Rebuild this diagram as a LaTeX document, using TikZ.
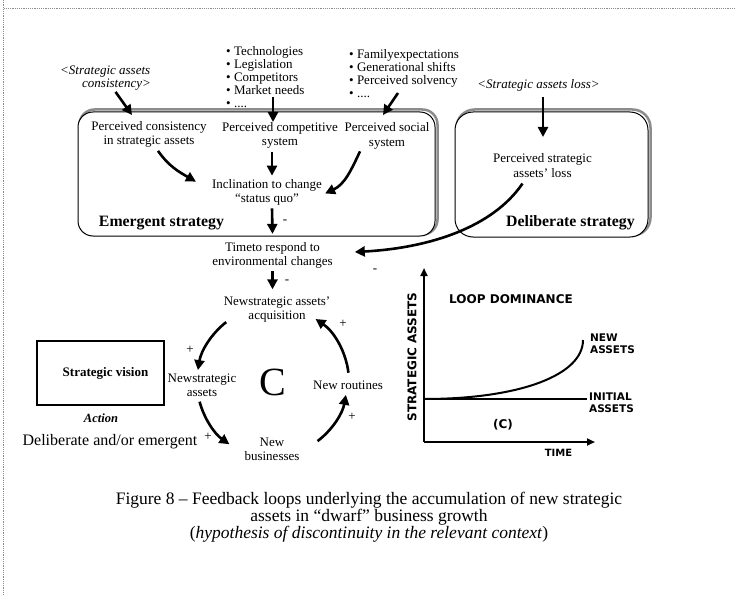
\documentclass[tikz,border=0pt]{standalone}
\usepackage{fontspec}
\setmainfont{Liberation Serif}
\newfontfamily\vsans{DejaVu Sans}
\usetikzlibrary{arrows.meta,backgrounds}

\tikzset{
  x=1pt, y=1pt,
  body/.style={align=center, inner sep=0pt, font=\fontsize{13}{14.5}\selectfont},
  srctext/.style={align=center, inner sep=0pt, font=\fontsize{13}{13}\selectfont\itshape},
  blist/.style={align=left, inner sep=0pt, anchor=west, font=\fontsize{13}{13}\selectfont},
  boxtitle/.style={inner sep=0pt, font=\fontsize{15.8}{17}\selectfont\bfseries},
  sign/.style={inner sep=0pt, font=\fontsize{13}{13}\selectfont},
  arr/.style={line width=2.6pt, -{Triangle[length=10pt,width=10pt]}},
  garr/.style={line width=2pt, -{Triangle[length=8pt,width=7pt]}},
  gline/.style={line width=2pt},
  gtext/.style={inner sep=0pt, font=\fontsize{12}{12}\selectfont\vsans\bfseries},
  gsmall/.style={align=left, anchor=west, inner sep=0pt, font=\fontsize{10.5}{12.5}\selectfont\vsans\bfseries},
  stratbox/.style={draw=black, line width=1pt, fill=white, rounded corners=#1},
  boxshadow/.style={draw=black!45, line width=2.5pt, rounded corners=#1},
  frame/.style={draw=black!45, line width=1.3pt, dash pattern=on 1.3pt off 0.9pt},
}

\begin{document}
\begin{tikzpicture}
\path[use as bounding box] (0,0) rectangle (736,-596);

% page frame
\draw[frame] (3.5,0) -- (3.5,-596);
\draw[frame] (3.5,-8.5) -- (736,-8.5);

% strategy boxes
\node[stratbox=15pt, minimum width=357pt, minimum height=124pt] (emer) at (256.5,-174) {};
\node[stratbox=18pt, minimum width=193pt, minimum height=125pt] (delib) at (551.5,-174.5) {};
\begin{scope}[on background layer]
  \draw[boxshadow=15pt] ([shift={(2,2)}]emer.south west) rectangle ([shift={(2,2)}]emer.north east);
  \draw[boxshadow=18pt] ([shift={(2,2)}]delib.south west) rectangle ([shift={(2,2)}]delib.north east);
\end{scope}

% external inputs
\node[srctext, align=left, anchor=west] (csrc) at (60,-78.5) {<Strategic assets\\\hspace*{22pt}consistency>};
\node[blist] (bul1) at (226,-77) {• Technologies\\• Legislation\\• Competitors\\• Market needs\\• ....};
\node[blist] (bul2) at (349,-73.5) {• Familyexpectations\\• Generational shifts\\• Perceived solvency\\• ....};
\node[srctext] (lsrc) at (538.5,-85) {<Strategic assets loss>};

% emergent strategy content
\node[body] (pcons) at (149,-134.5) {Perceived consistency\\in strategic assets};
\node[body] (pcomp) at (280,-135.5) {Perceived competitive\\system};
\node[body] (psoc) at (387,-136) {Perceived social\\system};
\node[body, font=\fontsize{13}{13.5}\selectfont] (incl) at (267,-192.5) {Inclination to change\\“status quo”};
\node[boxtitle] (etitle) at (161.5,-223) {Emergent strategy};
\node[sign] (s1) at (285,-222) {-};

% deliberate strategy content
\node[body] (ploss) at (542.5,-165.5) {Perceived strategic\\assets’ loss};
\node[boxtitle] (dtitle) at (570.5,-223) {Deliberate strategy};

% loop variables
\node[body, font=\fontsize{13}{14}\selectfont] (time) at (272.5,-255) {Timeto respond to\\environmental changes};
\node[sign] (s2) at (375,-271) {-};
\node[sign] (s3) at (287,-282) {-};
\node[body] (acq) at (277,-309.5) {Newstrategic assets’\\acquisition};
\node[body] (nsa) at (202,-385.5) {Newstrategic\\assets};
\node[inner sep=0pt, font=\fontsize{40}{40}\selectfont] (C) at (273,-382) {C};
\node[body] (nr) at (348,-385) {New routines};
\node[body] (nb) at (272,-449.5) {New\\businesses};
\node[sign] (p1) at (190,-350) {+};
\node[sign] (p2) at (208,-437) {+};
\node[sign] (p3) at (352,-417) {+};
\node[sign] (p4) at (343,-324) {+};

% strategic vision
\node[draw, line width=1.8pt, minimum width=127pt, minimum height=64pt, inner sep=0pt,
      font=\fontsize{13}{14}\selectfont\bfseries] (vision) at (100.5,-373) {\hspace*{10pt}Strategic vision};
\node[inner sep=0pt, font=\fontsize{12.5}{13}\selectfont\bfseries\itshape] (action) at (101,-418) {Action};
\node[inner sep=0pt, font=\fontsize{16}{17}\selectfont] (delem) at (110,-442) {Deliberate and/or emergent};

% arrow end points
\coordinate (tcons) at (132,-115);
\coordinate (scomp) at (273,-97);
\coordinate (tcomp) at (273,-122);
\coordinate (ssoc) at (398,-93);
\coordinate (tsoc) at (383,-115);
\coordinate (sloss) at (543,-97);
\coordinate (tloss) at (543,-137);

% arrows into the boxes
\draw[arr] ([xshift=10pt,yshift=-1pt]csrc.south) -- (tcons);
\draw[arr] (scomp) -- (tcomp);
\draw[arr] (ssoc) -- (tsoc);
\draw[arr] (sloss) -- (tloss);

% arrows inside the emergent box
\draw[arr] ([xshift=9pt,yshift=-3pt]pcons.south) to[out=-55,in=150] ([xshift=-16pt,yshift=-2pt]incl.west |- incl.north);
\draw[arr] ([xshift=5pt,yshift=-3pt]pcomp.south -| incl) -- ([xshift=5pt,yshift=4pt]incl.north);
\draw[arr] ([xshift=-27pt,yshift=-2pt]psoc.south) to[out=-115,in=25] ([xshift=3pt,yshift=-1pt]incl.east);
\draw[arr] ([xshift=5pt,yshift=-3pt]incl.south) -- ([yshift=8pt]time.north);

% loss of assets feeds the response time
\draw[arr] ([xshift=-20pt,yshift=-6pt]ploss.south) .. controls (493,-227) and (430,-248) .. ([xshift=22pt,yshift=3pt]time.east);

% response time drives acquisition
\draw[arr] ([yshift=-3pt]time.south) -- ([yshift=7pt]time.south |- acq.north);

% reinforcing loop C
\draw[arr] ([shift={(128:76)}]C.center) arc[start angle=128, end angle=171, radius=76];
\draw[arr] ([shift={(195:76)}]C.center) arc[start angle=195, end angle=235, radius=76];
\draw[arr] ([shift={(307:74)}]C.center) arc[start angle=307, end angle=350, radius=74];
\draw[arr] ([shift={(7:76)}]C.center) arc[start angle=7, end angle=56, radius=76];

% loop dominance chart
\coordinate (O) at (424,-442);
\coordinate (ytip) at (424,-268);
\coordinate (xtip) at (595,-442);
\coordinate (i0) at (424,-399);
\coordinate (i1) at (587,-399);
\coordinate (n1) at (583,-340);
\draw[garr] (O) -- (ytip);
\draw[garr] (O) -- (xtip);
\draw[gline] (i0) -- (i1);
\draw[gline] (i0) .. controls (520,-399) and (583,-375) .. (n1);
\node[gtext, rotate=90] (ylab) at (412,-357) {STRATEGIC ASSETS};
\node[gtext] (ldom) at (511,-299) {LOOP DOMINANCE};
\node[gsmall] (newa) at (590,-343.5) {NEW\\ASSETS};
\node[gsmall] (inia) at (589,-402.5) {INITIAL\\ASSETS};
\node[gtext] (cl) at (503,-425) {(C)};
\node[gtext, font=\fontsize{10}{10}\selectfont\vsans\bfseries] (tl) at (558.5,-453) {TIME};

% caption
\node[inner sep=0pt, align=center, font=\fontsize{17.5}{17}\selectfont] (caption) at (369,-517)
  {Figure 8 – Feedback loops underlying the accumulation of new strategic\\assets in “dwarf” business growth\\(\textit{hypothesis of discontinuity in the relevant context})};
\end{tikzpicture}
\end{document}
